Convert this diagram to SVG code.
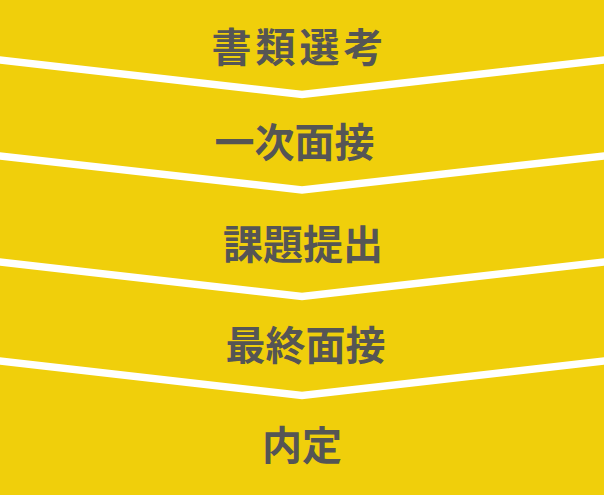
<svg xmlns="http://www.w3.org/2000/svg" width="604" height="495" viewBox="0 0 604 495">
  <style>
    .bg { fill: #F0CF0B; }
    .sep { fill: none; stroke: #FFFFFF; stroke-width: 7.5; stroke-linejoin: miter; stroke-miterlimit: 20; }
    .label { font-family: "Noto Sans CJK JP", "Noto Sans CJK SC", sans-serif; font-size: 40px; font-weight: 700; fill: #555555; text-anchor: middle; }
  </style>
  <rect class="bg" x="0" y="0" width="604" height="495"/>
  <g id="stage-1">
    <text class="label" x="299.5" y="62" letter-spacing="4">書類選考</text>
  </g>
  <g id="stage-2">
    <text class="label" x="294.5" y="157">一次面接</text>
  </g>
  <g id="stage-3">
    <text class="label" x="303" y="259">課題提出</text>
  </g>
  <g id="stage-4">
    <text class="label" x="305.5" y="360">最終面接</text>
  </g>
  <g id="stage-5">
    <text class="label" x="302" y="460">内定</text>
  </g>
  <g id="connectors">
    <polyline class="sep" points="-6,59.3 302,94.5 610,59.3"/>
    <polyline class="sep" points="-6,155.3 302,190 610,155.3"/>
    <polyline class="sep" points="-6,261.3 302,296.5 610,261.3"/>
    <polyline class="sep" points="-6,360.3 302,395.5 610,360.3"/>
  </g>
</svg>
